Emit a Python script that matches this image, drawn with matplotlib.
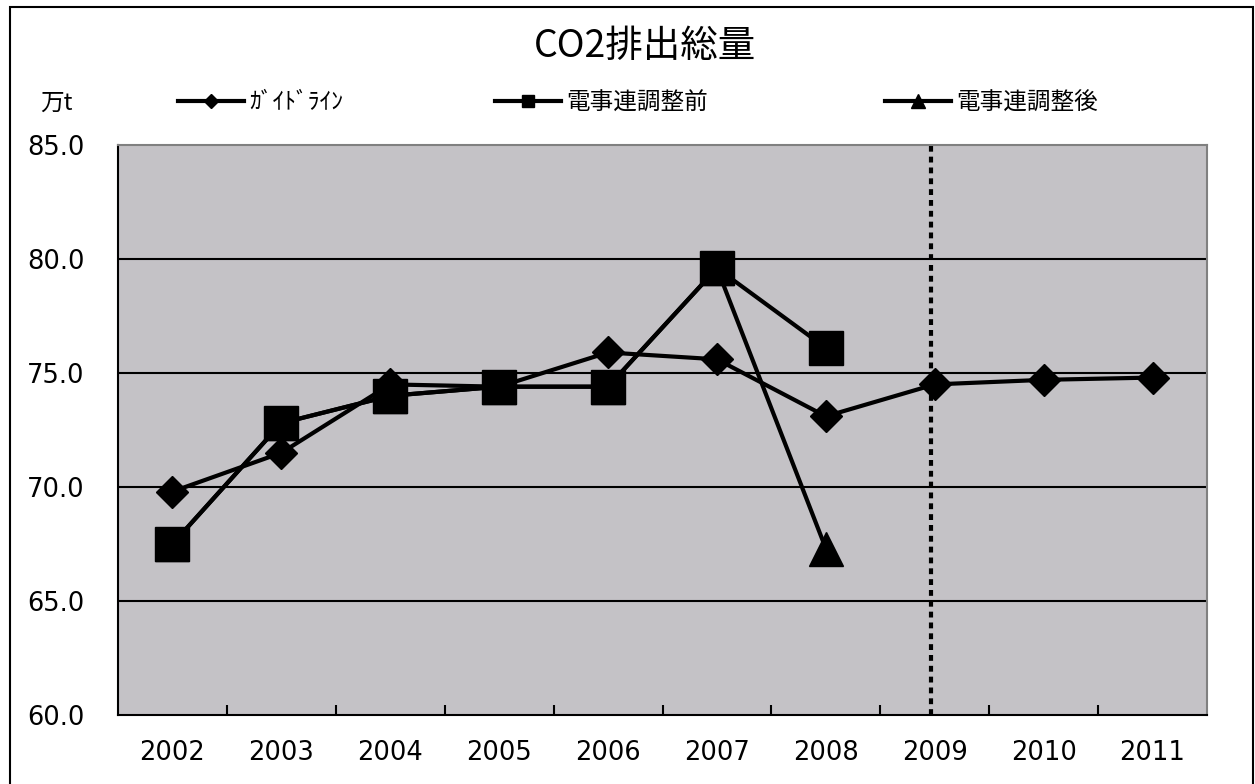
import numpy as np
import matplotlib.pyplot as plt
from matplotlib.lines import Line2D
from matplotlib.patches import Rectangle

jp = ['Noto Sans CJK JP', 'DejaVu Sans']
plt.rcParams['font.family'] = ['DejaVu Sans', 'Noto Sans CJK JP']

# data (万t)
years = [2002, 2003, 2004, 2005, 2006, 2007, 2008, 2009, 2010, 2011]
guideline = [69.8, 71.5, 74.5, 74.4, 75.9, 75.6, 73.1, 74.5, 74.7, 74.8]
before_adj = [67.5, 72.8, 74.0, 74.4, 74.4, 79.6, 76.1, np.nan, np.nan, np.nan]
after_adj = [67.5, 72.8, 74.0, 74.4, 74.4, 79.6, 67.3, np.nan, np.nan, np.nan]
labels = ['ｶﾞｲﾄﾞﾗｲﾝ', '電事連調整前', '電事連調整後']
split_year = 2009
yticks = [60, 65, 70, 75, 80, 85]

W, H = 1255, 784
fig = plt.figure(figsize=(W / 100, H / 100), dpi=100)
ax = fig.add_axes([118 / W, 1 - 715 / H, (1207 - 118) / W, (715 - 145) / H])
ax.set_facecolor('#c4c2c6')

x = np.arange(len(years))

# horizontal grid lines inside the plot area
for v in yticks[1:-1]:
    ax.axhline(v, color='black', lw=1.5, zorder=1)

# forecast divider
ax.axvline(x[years.index(split_year)] - 0.03, color='black', lw=3,
           linestyle=(0, (1.4, 1.2)), zorder=2)

ax.plot(x, guideline, color='black', lw=3, marker='D', ms=16, zorder=3)
ax.plot(x, after_adj, color='black', lw=3, marker='^', ms=24, zorder=4)
ax.plot(x, before_adj, color='black', lw=3, marker='s', ms=24, zorder=5)

ax.set_xlim(-0.5, len(years) - 0.5)
ax.set_ylim(yticks[0], yticks[-1])
ax.set_yticks(yticks)
ax.set_yticklabels([f'{v:.1f}' for v in yticks], fontsize=18.5)
ax.set_xticks(x)
ax.set_xticklabels([str(y) for y in years], fontsize=18.5)
ax.set_xticks(x[:-1] + 0.5, minor=True)
ax.tick_params(axis='x', which='major', length=0, pad=18)
ax.tick_params(axis='x', which='minor', direction='in', length=7, width=1.5)
ax.tick_params(axis='y', length=0, pad=24)

for s in ['left', 'bottom']:
    ax.spines[s].set_color('black')
    ax.spines[s].set_linewidth(1.5)
for s in ['top', 'right']:
    ax.spines[s].set_color('#808080')
    ax.spines[s].set_linewidth(1.5)

# title and unit
fig.text(645 / W, 1 - 47 / H, 'CO2排出総量', ha='center', va='center',
         fontsize=27, family=jp)
fig.text(40 / W, 1 - 103 / H, '万t', ha='left', va='center',
         fontsize=17, family=jp)

# legend, three separate entries like the original
handles = [
    Line2D([], [], color='black', lw=3, marker='D', ms=7),
    Line2D([], [], color='black', lw=3, marker='s', ms=9),
    Line2D([], [], color='black', lw=3, marker='^', ms=10),
]
starts = [178, 495, 885]
for h, lab, sx in zip(handles, labels, starts):
    fig.legend([h], [lab], loc='center left',
               bbox_to_anchor=(sx / W, 1 - 103 / H),
               frameon=False, borderpad=0, borderaxespad=0,
               handlelength=2.8, handletextpad=0.2,
               prop={'family': jp, 'size': 17})

# outer chart border
fig.patches.append(Rectangle((10 / W, -0.01), (1253 - 10) / W, 1.01 - 7 / H,
                             transform=fig.transFigure, fill=False,
                             ec='black', lw=1.5))

fig.savefig('out.png', dpi=100)
plt.close(fig)
